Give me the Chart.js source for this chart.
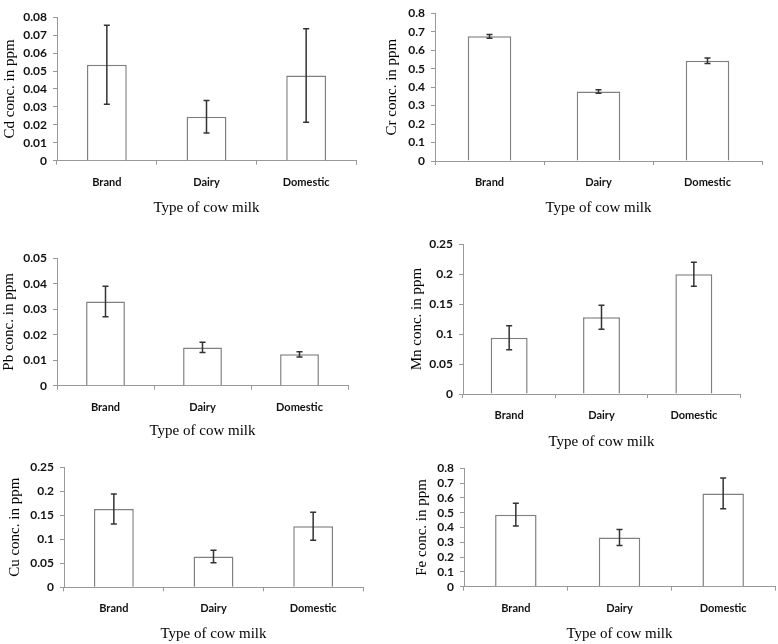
<!DOCTYPE html>
<html>
<head>
<meta charset="utf-8">
<script src="https://cdn.jsdelivr.net/npm/chart.js@4.4.1/dist/chart.umd.min.js"></script>
<style>
  html, body { margin: 0; padding: 0; background: #fff; }
  #wrap { position: relative; width: 778px; height: 644px; overflow: hidden; }
  canvas { position: absolute; }
</style>
</head>
<body>
<div id="wrap"></div>
<script>
// categories on every panel
var categories = ["Brand", "Dairy", "Domestic"];

// means and +/- error (ppm)
var cdMean = [0.0535, 0.0245, 0.0475];
var cdErr  = [0.022, 0.009, 0.026];
var crMean = [0.675, 0.376, 0.543];
var crErr  = [0.010, 0.009, 0.015];
var pbMean = [0.033, 0.015, 0.0123];
var pbErr  = [0.006, 0.002, 0.001];
var mnMean = [0.094, 0.128, 0.200];
var mnErr  = [0.020, 0.020, 0.020];
var cuMean = [0.163, 0.064, 0.127];
var cuErr  = [0.031, 0.013, 0.029];
var feMean = [0.486, 0.332, 0.630];
var feErr  = [0.077, 0.054, 0.103];

// y axis ranges
var yMax  = [0.08, 0.8, 0.05, 0.25, 0.25, 0.8];
var yStep = [0.01, 0.1, 0.01, 0.05, 0.05, 0.1];
var yTitles = ["Cd conc. in ppm", "Cr conc. in ppm", "Pb conc. in ppm",
               "Mn conc. in ppm", "Cu conc. in ppm", "Fe conc. in ppm"];
var xTitle = "Type of cow milk";

var means = [cdMean, crMean, pbMean, mnMean, cuMean, feMean];
var errs  = [cdErr, crErr, pbErr, mnErr, cuErr, feErr];

// page layout of each panel: plot box, y title centre x, x title centre y
var boxes = [
  { x0: 57,  x1: 356, y0: 13.3,  y1: 160.7, ytx: 10,  xty: 208 },
  { x0: 435, x1: 762, y0: 6,     y1: 161,   ytx: 392, xty: 208 },
  { x0: 57,  x1: 348, y0: 254.3, y1: 385.7, ytx: 9,   xty: 431 },
  { x0: 463, x1: 740, y0: 240,   y1: 394,   ytx: 417, xty: 442 },
  { x0: 64,  x1: 363, y0: 463.3, y1: 587.3, ytx: 15,  xty: 634 },
  { x0: 464, x1: 775, y0: 464,   y1: 586.7, ytx: 422, xty: 634 }
];

var titleSize = 15;
var titleLH = titleSize * 1.2;
var xTickFont = { family: "Lato, 'Liberation Sans', sans-serif", size: 11, weight: "bold" };
var yTickFont = { family: "Lato, 'Liberation Sans', sans-serif", size: 12, weight: "bold" };
var titleFont = { family: "'Liberation Serif', 'Times New Roman', serif", size: titleSize, lineHeight: 1.2 };

var errorBars = {
  id: "errorBars",
  afterDatasetsDraw: function (chart, args, opts) {
    var ctx = chart.ctx;
    var meta = chart.getDatasetMeta(0);
    var ys = chart.scales.y;
    ctx.save();
    ctx.strokeStyle = "#333";
    ctx.lineWidth = 1.5;
    meta.data.forEach(function (bar, i) {
      var m = opts.mean[i], e = opts.err[i];
      var yt = ys.getPixelForValue(m + e);
      var yb = ys.getPixelForValue(m - e);
      ctx.beginPath();
      ctx.moveTo(bar.x, yt); ctx.lineTo(bar.x, yb);
      ctx.moveTo(bar.x - 3, yt); ctx.lineTo(bar.x + 3, yt);
      ctx.moveTo(bar.x - 3, yb); ctx.lineTo(bar.x + 3, yb);
      ctx.stroke();
    });
    ctx.restore();
  }
};

var wrap = document.getElementById("wrap");

boxes.forEach(function (b, k) {
  var cx = Math.floor(b.ytx - titleLH / 2 - 1);
  var cy = Math.max(0, Math.floor(b.y0 - 9));
  var cw = Math.min(778, Math.ceil(b.x1 + 4)) - cx;
  var ch = Math.ceil(b.xty + 11) - cy;
  var cv = document.createElement("canvas");
  cv.width = cw; cv.height = ch;
  cv.style.left = cx + "px"; cv.style.top = cy + "px";
  cv.style.width = cw + "px"; cv.style.height = ch + "px";
  wrap.appendChild(cv);

  var padTop = b.y0 - cy;
  var padRight = (cx + cw) - b.x1;
  var yW = b.x0 - cx;
  var xH = (cy + ch) - b.y1;

  new Chart(cv, {
    type: "bar",
    data: {
      labels: categories,
      datasets: [{
        data: means[k],
        backgroundColor: "#ffffff",
        borderColor: "#808080",
        borderWidth: 1.5,
        barPercentage: 0.4,
        categoryPercentage: 1.0
      }]
    },
    options: {
      responsive: false,
      animation: false,
      devicePixelRatio: 1,
      layout: { padding: { top: padTop, right: padRight, left: 0, bottom: 0 } },
      plugins: {
        legend: { display: false },
        tooltip: { enabled: false },
        errorBars: { mean: means[k], err: errs[k] }
      },
      scales: {
        x: {
          grid: { display: true, offset: true, drawOnChartArea: false, drawTicks: true, tickLength: 4, color: "#999" },
          border: { display: true, color: "#999", width: 1 },
          ticks: { color: "#111", font: xTickFont, padding: 11, maxRotation: 0 },
          title: {
            display: true, text: xTitle, color: "#000", font: titleFont,
            padding: { top: 0, bottom: ch - (b.xty - cy) - titleLH / 2 }
          },
          afterFit: function (s) { s.height = xH; }
        },
        y: {
          min: 0, max: yMax[k],
          grid: { display: true, drawOnChartArea: false, drawTicks: true, tickLength: 4, color: "#999" },
          border: { display: true, color: "#999", width: 1 },
          ticks: {
            stepSize: yStep[k], autoSkip: false, color: "#111", font: yTickFont, padding: 6,
            callback: function (v) { return String(parseFloat(Number(v).toFixed(4))); }
          },
          title: {
            display: true, text: yTitles[k], color: "#000", font: titleFont,
            padding: { top: (b.ytx - cx) - titleLH / 2, bottom: 0 }
          },
          afterFit: function (s) { s.width = yW; }
        }
      }
    },
    plugins: [errorBars]
  });
});
</script>
</body>
</html>
